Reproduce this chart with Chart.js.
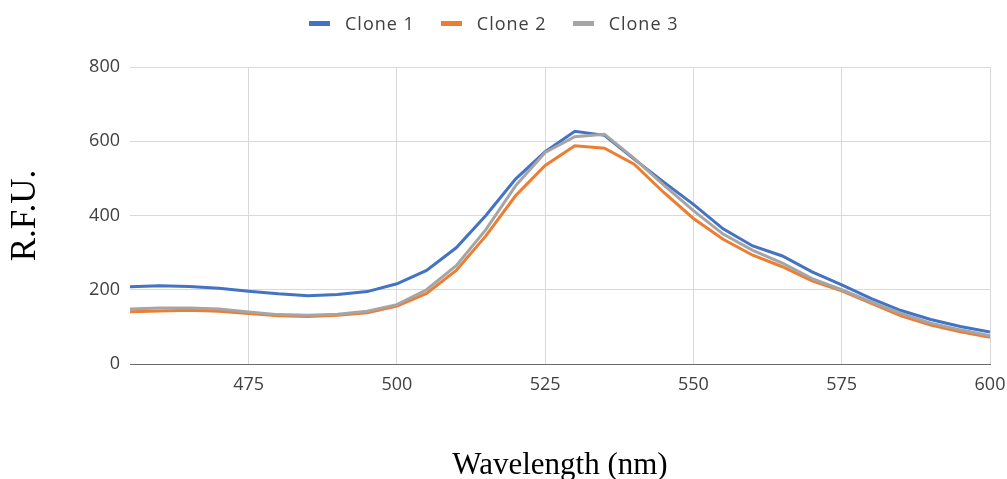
<!DOCTYPE html>
<html>
<head>
<meta charset="utf-8">
<script src="https://cdn.jsdelivr.net/npm/chart.js@4"></script>
<style>
    body { margin: 0; background: #fff; }
    #wrap { position: relative; width: 1007px; height: 479px; }
    #legend {
        position: absolute; left: 309px; top: 12px;
        display: flex; align-items: center;
        font: 18px "Open Sans", sans-serif; line-height: 22px;
        letter-spacing: 1px; color: #404040;
    }
    #legend .item { display: flex; align-items: center; margin-right: 26px; }
    #legend .swatch { width: 21px; height: 5px; margin-right: 15px; }
</style>
</head>
<body>
<div id="wrap">
    <canvas id="chart" width="1007" height="479"></canvas>
    <div id="legend"></div>
</div>
<script>
// wavelength (nm) and R.F.U. readings for each clone
const wavelengths = [455, 460, 465, 470, 475, 480, 485, 490, 495, 500,
    505, 510, 515, 520, 525, 530, 535, 540, 545, 550,
    555, 560, 565, 570, 575, 580, 585, 590, 595, 600];
const clone1 = [208, 211, 209, 204, 196, 189, 184, 187, 195, 216,
    252, 313, 400, 498, 572, 627, 616, 552, 490, 430,
    364, 318, 291, 248, 213, 176, 144, 120, 101, 86];
const clone2 = [141, 143, 145, 142, 136, 130, 128, 131, 138, 156,
    190, 252, 345, 453, 535, 588, 581, 538, 462, 392,
    336, 293, 262, 224, 197, 163, 130, 105, 87, 72];
const clone3 = [148, 151, 151, 148, 140, 133, 131, 134, 142, 160,
    200, 265, 362, 480, 570, 612, 619, 554, 482, 413,
    350, 306, 272, 230, 200, 167, 136, 110, 92, 76];
const xTicks = [475, 500, 525, 550, 575, 600];
const yTicks = [0, 200, 400, 600, 800];

const seriesNames = ["Clone 1", "Clone 2", "Clone 3"];
const seriesColors = ["#4472C4", "#ED7D31", "#A5A5A5"];

const points = (values) => values.map((v, i) => ({ x: wavelengths[i], y: v }));

const tickFont = { family: "Open Sans", size: 18 };

const chart = new Chart(document.getElementById("chart"), {
    type: "line",
    data: {
        datasets: [clone1, clone2, clone3].map((values, i) => ({
            label: seriesNames[i],
            data: points(values),
            borderColor: seriesColors[i],
            backgroundColor: seriesColors[i],
            borderWidth: 3,
            pointRadius: 0,
            tension: 0,
            order: 2 - i   // last series drawn on top, like the original
        }))
    },
    options: {
        responsive: false,
        animation: false,
        layout: { padding: { top: 67, right: 17, bottom: 0, left: 0 } },
        plugins: {
            legend: { display: false },
            tooltip: { enabled: false }
        },
        scales: {
            x: {
                type: "linear",
                min: 455,
                max: 600,
                afterBuildTicks: (scale) => { scale.ticks = xTicks.map(v => ({ value: v })); },
                afterFit: (scale) => {
                    scale.height = 115;
                    // let the last label hang over the edge, as in the original
                    scale.paddingLeft = 0;
                    scale.paddingRight = 0;
                },
                grid: { color: "#d9d9d9", lineWidth: 1, drawTicks: false },
                border: { color: "#6b6b6b", width: 1 },
                ticks: { color: "#404040", font: tickFont, padding: 10 },
                title: {
                    display: true,
                    text: "Wavelength (nm)",
                    color: "#000",
                    font: { family: "Liberation Serif", size: 31, lineHeight: 0.88 },
                    padding: 0
                }
            },
            y: {
                min: 0,
                max: 800,
                afterBuildTicks: (scale) => { scale.ticks = yTicks.map(v => ({ value: v })); },
                afterFit: (scale) => { scale.width = 130; },
                grid: {
                    color: (ctx) => ctx.tick && ctx.tick.value === 0 ? "#6b6b6b" : "#d9d9d9",
                    drawTicks: false
                },
                border: { display: false },
                ticks: { color: "#404040", font: tickFont, padding: 10 },
                title: {
                    display: true,
                    text: "R.F.U.",
                    color: "#000",
                    font: { family: "Liberation Serif", size: 35 },
                    padding: { top: 5, bottom: 0 }
                }
            }
        }
    }
});

// legend as html so its spacing can follow the original
const legendEl = document.getElementById("legend");
chart.data.datasets.forEach((ds) => {
    const item = document.createElement("div");
    item.className = "item";
    const swatch = document.createElement("span");
    swatch.className = "swatch";
    swatch.style.background = ds.borderColor;
    const label = document.createElement("span");
    label.textContent = ds.label;
    item.appendChild(swatch);
    item.appendChild(label);
    legendEl.appendChild(item);
});
</script>
</body>
</html>
